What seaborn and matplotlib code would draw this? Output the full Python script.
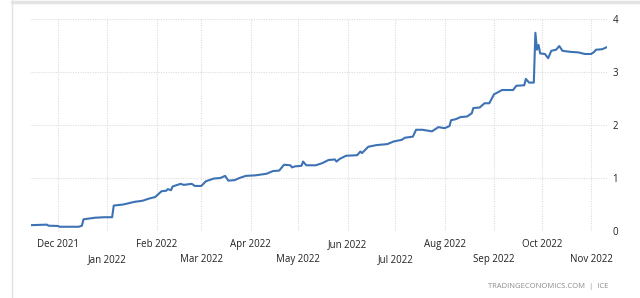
import pandas as pd
import numpy as np
import matplotlib
matplotlib.use('Agg')
import matplotlib.pyplot as plt
import matplotlib.dates as mdates
from matplotlib.lines import Line2D
import seaborn as sns

# Values (yield, %)
dates = [
    '2021-11-14', '2021-11-24', '2021-11-25', '2021-12-01', '2021-12-02', '2021-12-14',
    '2021-12-16', '2021-12-17', '2021-12-24', '2021-12-30', '2022-01-04', '2022-01-05',
    '2022-01-11', '2022-01-18', '2022-01-23', '2022-01-27', '2022-01-31', '2022-02-04',
    '2022-02-07', '2022-02-08', '2022-02-10', '2022-02-11', '2022-02-16', '2022-02-18',
    '2022-02-23', '2022-02-25', '2022-03-01', '2022-03-04', '2022-03-09', '2022-03-13',
    '2022-03-16', '2022-03-18', '2022-03-22', '2022-03-25', '2022-03-29', '2022-04-04',
    '2022-04-11', '2022-04-15', '2022-04-19', '2022-04-22', '2022-04-26', '2022-04-27',
    '2022-04-29', '2022-05-03', '2022-05-04', '2022-05-06', '2022-05-12', '2022-05-16',
    '2022-05-20', '2022-05-24', '2022-05-25', '2022-05-27', '2022-05-31', '2022-06-07',
    '2022-06-09', '2022-06-10', '2022-06-14', '2022-06-19', '2022-06-26', '2022-06-30',
    '2022-07-05', '2022-07-07', '2022-07-12', '2022-07-14', '2022-07-18', '2022-07-24',
    '2022-07-28', '2022-08-01', '2022-08-04', '2022-08-05', '2022-08-08', '2022-08-11',
    '2022-08-15', '2022-08-18', '2022-08-19', '2022-08-23', '2022-08-26', '2022-08-29',
    '2022-09-01', '2022-09-03', '2022-09-06', '2022-09-13', '2022-09-15', '2022-09-20',
    '2022-09-21', '2022-09-23', '2022-09-26', '2022-09-27', '2022-09-28', '2022-09-29',
    '2022-09-30', '2022-10-03', '2022-10-05', '2022-10-07', '2022-10-10', '2022-10-12',
    '2022-10-14', '2022-10-19', '2022-10-24', '2022-10-28', '2022-11-01', '2022-11-03',
    '2022-11-04', '2022-11-08', '2022-11-11',
]
values = [
    0.11, 0.12, 0.10, 0.095, 0.08, 0.08,
    0.10, 0.22, 0.25, 0.26, 0.26, 0.48,
    0.50, 0.55, 0.57, 0.61, 0.64, 0.75,
    0.76, 0.79, 0.77, 0.84, 0.89, 0.87,
    0.89, 0.85, 0.85, 0.94, 0.99, 1.00,
    1.04, 0.95, 0.96, 1.00, 1.04, 1.05,
    1.08, 1.13, 1.14, 1.25, 1.24, 1.20,
    1.22, 1.23, 1.31, 1.24, 1.24, 1.28,
    1.34, 1.35, 1.31, 1.36, 1.42, 1.43,
    1.50, 1.47, 1.59, 1.62, 1.64, 1.69,
    1.72, 1.76, 1.78, 1.91, 1.91, 1.88,
    1.96, 1.94, 1.98, 2.09, 2.11, 2.15,
    2.16, 2.22, 2.32, 2.33, 2.41, 2.41,
    2.58, 2.61, 2.66, 2.66, 2.74, 2.75,
    2.87, 2.80, 2.80, 3.74, 3.42, 3.51,
    3.35, 3.34, 3.26, 3.40, 3.42, 3.49,
    3.40, 3.38, 3.37, 3.34, 3.34, 3.38,
    3.42, 3.43, 3.47,
]
y_ticks = [0, 1, 2, 3, 4]
source_text = 'TRADINGECONOMICS.COM  |  ICE'

df = pd.DataFrame({'date': pd.to_datetime(dates), 'value': values})

sns.set_style('white')
plt.rcParams['font.family'] = ['Open Sans', 'DejaVu Sans']

fig = plt.figure(figsize=(6.4, 2.98), dpi=100)
ax = fig.add_axes([31 / 640, 1 - 231 / 298, (607 - 31) / 640, (231 - 19) / 298])

sns.lineplot(data=df, x='date', y='value', ax=ax, color='#3d72b4', linewidth=1.5)

ax.set_xlim(df['date'].min(), df['date'].max())
ax.set_ylim(0, 4)
ax.set_xlabel('')
ax.set_ylabel('')

# month ticks on two alternating rows
ax.xaxis.set_major_locator(mdates.MonthLocator(bymonth=[12, 2, 4, 6, 8, 10]))
ax.xaxis.set_minor_locator(mdates.MonthLocator(bymonth=[1, 3, 5, 7, 9, 11]))
ax.xaxis.set_major_formatter(mdates.DateFormatter('%b %Y'))
ax.xaxis.set_minor_formatter(mdates.DateFormatter('%b %Y'))
ax.tick_params(axis='x', which='major', length=2.5, color='#cccccc', pad=3,
               labelsize=7, labelcolor='#222222')
ax.tick_params(axis='x', which='minor', length=2.5, color='#cccccc', pad=14,
               labelsize=7, labelcolor='#222222')

ax.set_yticks(y_ticks)
ax.yaxis.tick_right()
ax.tick_params(axis='y', length=0, pad=4, labelsize=7, labelcolor='#222222')

ax.grid(True, which='both', color='#dcdcdc', linestyle=(0, (1, 1.2)), linewidth=0.8)
for s in ax.spines.values():
    s.set_visible(False)

# card border of the screenshot
fig.add_artist(Line2D([11.5 / 640, 11.5 / 640], [0, 1], color='#e3e3e3', lw=1))
fig.add_artist(Line2D([11.5 / 640, 1], [1 - 1.5 / 298, 1 - 1.5 / 298], color='#e3e3e3', lw=2.5))

fig.text(608 / 640, 1 - 286 / 298, source_text, ha='right', va='center',
         fontsize=5.5, color='#8c8c8c')

fig.savefig('out.png', dpi=100)
